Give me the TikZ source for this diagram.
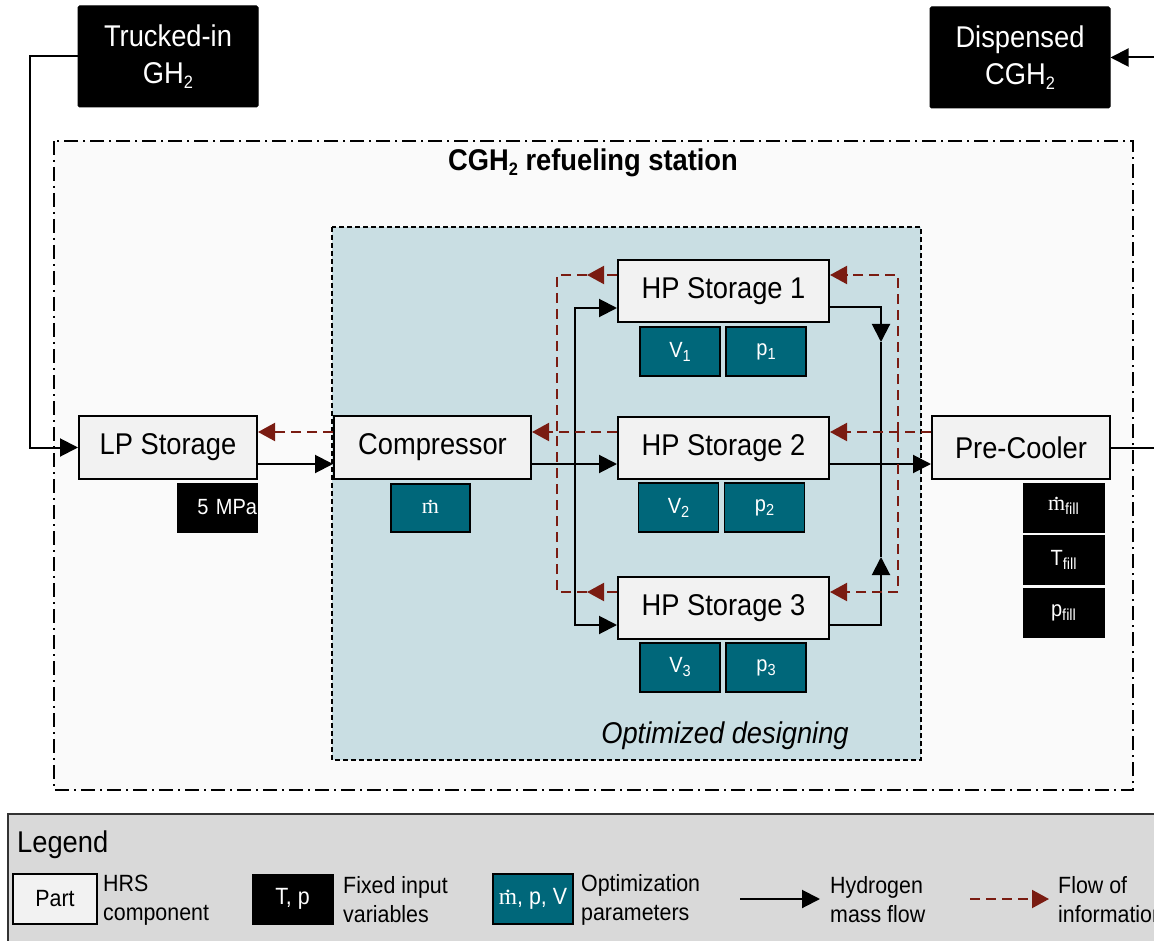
\documentclass[tikz,border=0pt]{standalone}
\usepackage{fontspec}
\setmainfont{Liberation Sans}[FakeStretch=0.91]
\newfontfamily\mdotfont{Liberation Serif}
\usetikzlibrary{arrows.meta,calc}
\definecolor{tealbox}{HTML}{00677A}
\definecolor{optblue}{HTML}{C9DEE3}
\definecolor{infored}{HTML}{7A1C12}
\definecolor{boxgray}{HTML}{F2F2F2}
\definecolor{stationgray}{HTML}{FAFAFA}
\definecolor{legendgray}{HTML}{D9D9D9}
\definecolor{legendline}{HTML}{333333}
\newcommand\fbig{\fontsize{30}{34}\selectfont}
\newcommand\fsmall{\fontsize{23.5}{29}\selectfont}
\newcommand\fparam{\fontsize{22}{26}\selectfont}
\newcommand\bsub[1]{\raisebox{-5pt}{\fontsize{18}{18}\selectfont #1}}
\newcommand\ssub[1]{\raisebox{-4pt}{\fontsize{16}{16}\selectfont #1}}
\newcommand\mdotsym{{\mdotfont\ooalign{m\cr\hidewidth\raisebox{0.5em}{.}\hidewidth\cr}}}
\begin{document}
\begin{tikzpicture}[x=1pt,y=-1pt,
  hrs/.style={draw=black, line width=2pt, fill=boxgray, inner sep=0pt, font=\fbig},
  fixbox/.style={draw=black, fill=black, line width=1pt, text=white, inner sep=0pt, font=\fparam, rounded corners=1.5pt},
  optbox/.style={draw=black, fill=tealbox, line width=1.5pt, text=white, inner sep=0pt, font=\fparam},
  sbox/.style={minimum width=80pt, minimum height=49pt},
  flow/.style={draw=black, line width=2pt, -{Triangle[length=18pt,width=18pt]}},
  flowline/.style={draw=black, line width=2pt},
  info/.style={draw=infored, line width=2pt, dash pattern=on 10pt off 6pt, -{Triangle[length=17pt,width=18pt]}},
  infoline/.style={draw=infored, line width=2pt, dash pattern=on 10pt off 6pt},
  lgtext/.style={anchor=west, align=left, inner sep=0pt, font=\fsmall}
]
\useasboundingbox (0,0) rectangle (1154,941);

% station frame
\draw[line width=2pt, fill=stationgray, dash pattern=on 14pt off 5pt on 2pt off 5pt] (54,141) rectangle (1133,790);
\node[font=\fbig\bfseries, inner sep=0pt] (title) at (593,163) {CGH\bsub{2} refueling station};

% optimized designing frame
\draw[line width=2pt, fill=optblue, dash pattern=on 5pt off 3pt] (332,227) rectangle (921,760);
\node[font=\fbig\itshape, inner sep=0pt] (optlabel) at (725,736) {Optimized designing};

% external boxes
\node[fixbox, font=\fontsize{30}{37}\selectfont, align=center, minimum width=180pt, minimum height=101pt] (trk) at (168,56.5) {Trucked-in\\GH\bsub{2}};
\node[fixbox, font=\fontsize{30}{37}\selectfont, align=center, minimum width=180pt, minimum height=101pt] (disp) at (1020,57.5) {Dispensed\\CGH\bsub{2}};

% components
\node[hrs, minimum width=178pt, minimum height=63pt] (lp) at (168,447.5) {LP Storage};
\node[hrs, minimum width=197pt, minimum height=63pt] (comp) at (432.5,447.5) {Compressor};
\node[hrs, minimum width=211pt, minimum height=62pt] (hp1) at (723.5,291) {HP Storage 1};
\node[hrs, minimum width=211pt, minimum height=62pt] (hp2) at (723.5,448) {HP Storage 2};
\node[hrs, minimum width=211pt, minimum height=62pt] (hp3) at (723.5,608) {HP Storage 3};
\node[hrs, minimum width=178pt, minimum height=63pt] (pc) at (1021,447.5) {Pre-Cooler};

% parameter boxes
\node[fixbox, rounded corners=0pt, text width=80pt, inner xsep=0pt, align=right, minimum height=49pt] (mpa) at (217,507.5) {5 MPa};
\node[optbox, minimum width=79pt, minimum height=48pt] (mdot) at (430.5,508) {\mdotsym};
\node[optbox, sbox] (v1) at (680,351.5) {V\ssub{1}};
\node[optbox, sbox] (p1) at (766,351.5) {p\ssub{1}};
\node[optbox, sbox] (v2) at (678.5,507.5) {V\ssub{2}};
\node[optbox, sbox] (p2) at (764.5,507.5) {p\ssub{2}};
\node[optbox, sbox] (v3) at (680,667.5) {V\ssub{3}};
\node[optbox, sbox] (p3) at (766,667.5) {p\ssub{3}};
\node[fixbox, rounded corners=0pt, minimum width=81pt, minimum height=49pt] (mfill) at (1063.5,507.5) {\mdotsym\ssub{fill}};
\node[fixbox, rounded corners=0pt, minimum width=81pt, minimum height=49pt] (tfill) at (1063.5,559.5) {T\ssub{fill}};
\node[fixbox, rounded corners=0pt, minimum width=81pt, minimum height=49pt] (pfill) at (1063.5,612.5) {p\ssub{fill}};

% helper coordinates
\coordinate (tl) at (30,0);
\coordinate (bx) at (575,464);
\coordinate (a1) at (881,342);
\coordinate (a3) at (881,557);
\coordinate (rj) at (898,432);
\coordinate (lj) at (557,432);
\coordinate (l1) at (587,275);
\coordinate (l3) at (587,592);

% hydrogen mass flow
\draw[flow] (trk.west) -| (tl |- lp.west) -- (lp.west);
\draw[flow] ([yshift=-16.5pt]lp.east) -- ([yshift=-16.5pt]comp.west);
\draw[flow] ([yshift=-16.5pt]comp.east) -- ([yshift=-16pt]hp2.west);
\draw[flow] (bx) |- ([yshift=-17pt]hp1.west);
\draw[flow] (bx) |- ([yshift=-17pt]hp3.west);
\draw[flow] ([yshift=-16pt]hp1.east) -| (a1);
\draw[flowline] (a1) -- (a3);
\draw[flow] ([yshift=-17pt]hp3.east) -| (a3);
\draw[flow] ([yshift=-16pt]hp2.east) -- ([yshift=-16.5pt]pc.west);
\draw[flow] (pc.east) -| ($(disp.east)+(60,0)$) -- (disp.east);

% information flow
\draw[info] ([yshift=15.5pt]pc.west) -- ([yshift=16pt]hp2.east);
\draw[info] (rj) |- ([yshift=16pt]hp1.east);
\draw[info] (rj) |- ([yshift=16pt]hp3.east);
\draw[info] ([yshift=16pt]hp2.west) -- ([yshift=15.5pt]comp.east);
\draw[info] ([yshift=16pt]hp1.west) -- (l1);
\draw[infoline] (l1) -| (lj);
\draw[info] ([yshift=16pt]hp3.west) -- (l3);
\draw[infoline] (l3) -| (lj);
\draw[info] ([yshift=15.5pt]comp.west) -- ([yshift=15.5pt]lp.east);

% legend
\draw[line width=2pt, draw=legendline, fill=legendgray] (8,814) rectangle (1175,960);
\node[anchor=west, inner sep=0pt, font=\fbig] (lgtitle) at (17,845) {Legend};
\node[hrs, font=\fsmall, minimum width=84pt, minimum height=50pt] (lgpart) at (55,899) {Part};
\node[lgtext] (lgpartt) at (103,900) {HRS\\component};
\node[fixbox, font=\fsmall, rounded corners=0pt, minimum width=81pt, minimum height=50pt] (lgfix) at (292.5,899) {T, p};
\node[lgtext] (lgfixt) at (343,900) {Fixed input\\variables};
\node[optbox, font=\fsmall, minimum width=80pt, minimum height=50pt] (lgopt) at (533,899) {\mdotsym, p, V};
\node[lgtext] (lgoptt) at (581,900) {Optimization\\parameters};
\coordinate (lgf1) at (740,899);
\coordinate (lgf2) at (820,899);
\draw[flow] (lgf1) -- (lgf2);
\node[lgtext] (lgflowt) at (830,900) {Hydrogen\\mass flow};
\coordinate (lgi1) at (970,899);
\coordinate (lgi2) at (1049,899);
\draw[info] (lgi1) -- (lgi2);
\node[lgtext] (lginfot) at (1058,900) {Flow of\\information};
\end{tikzpicture}
\end{document}
